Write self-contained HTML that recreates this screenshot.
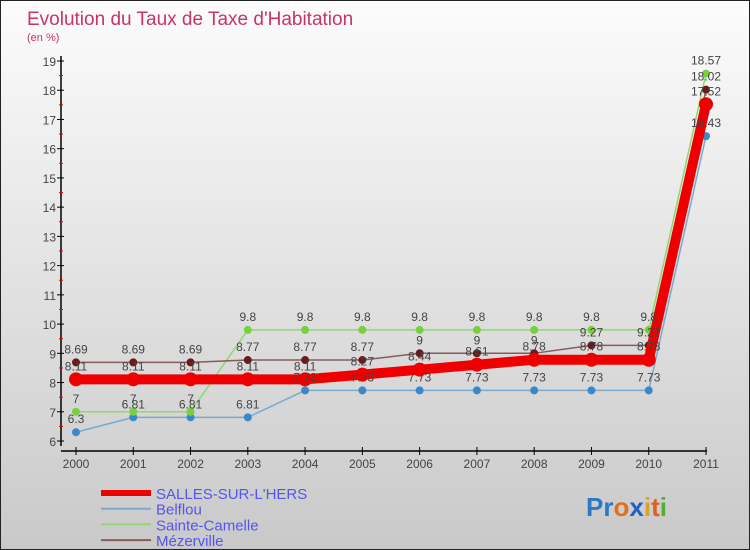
<!DOCTYPE html>
<html><head><meta charset="utf-8"><style>
body{margin:0}
#c{width:750px;height:550px;position:relative;overflow:hidden;background:linear-gradient(#fcfcfc,#c9c9c9);box-sizing:border-box;border:1px solid #222;font-family:"Liberation Sans",sans-serif}
svg{position:absolute;left:0;top:0}
</style></head><body>
<div id="c">
<svg id="s" width="750" height="550">
<text x="26" y="24" font-size="19" fill="#c8336a">Evolution du Taux de Taxe d'Habitation</text>
<text x="26" y="40" font-size="11" fill="#c8336a">(en %)</text>
<g id="axes"></g><g id="series"></g><g id="labels"></g>
<g id="legend"></g>
<text x="585" y="515" font-size="26" font-weight="bold"><tspan fill="#2a78c8">Pr</tspan><tspan fill="#e07020">o</tspan><tspan fill="#2060c0">x</tspan><tspan fill="#e0a020">i</tspan><tspan fill="#e06020">t</tspan><tspan fill="#50b030">i</tspan></text>
</svg></div>
<script>
const years=[2000,2001,2002,2003,2004,2005,2006,2007,2008,2009,2010,2011];
const salles=[8.11,8.11,8.11,8.11,8.11,8.27,8.44,8.61,8.78,8.78,8.78,17.52];
const belflou=[6.3,6.81,6.81,6.81,7.73,7.73,7.73,7.73,7.73,7.73,7.73,16.43];
const camelle=[7,7,7,9.8,9.8,9.8,9.8,9.8,9.8,9.8,9.8,18.57];
const mezer=[8.69,8.69,8.69,8.77,8.77,8.77,9,9,9,9.27,9.27,18.02];
const yTicks=[6,7,8,9,10,11,12,13,14,15,16,17,18,19];
const NS='http://www.w3.org/2000/svg';
const X=i=>75+(705-75)*i/(years.length-1);
const Y=v=>440-(v-6)*(440-60)/13;
function mk(p,t,a){const e=document.createElementNS(NS,t);for(const k in a)e.setAttribute(k,a[k]);document.getElementById(p).appendChild(e);return e;}
let e;
e=mk('axes','line',{x1:60,y1:55,x2:60,y2:445,stroke:'#000','stroke-width':1.5});


e=mk('axes','line',{x1:60,y1:450,x2:706,y2:450,stroke:'#000','stroke-width':1.5});


yTicks.forEach(v=>{
 e=mk('axes','line',{x1:56,y1:Y(v),x2:63,y2:Y(v),stroke:'#000'});
 
 
 if(v<19){e=mk('axes','line',{x1:58,y1:Y(v+0.5),x2:62,y2:Y(v+0.5),stroke:'#e00'});
 
 }
 e=mk('axes','text',{x:55,y:Y(v)+5,'font-size':12,fill:'#444','text-anchor':'end'});
 e.textContent=v;
 
 
});
years.forEach((yr,i)=>{
 e=mk('axes','line',{x1:X(i),y1:446,x2:X(i),y2:454,stroke:'#000'});
 
 
 e=mk('axes','text',{x:X(i),y:467,'font-size':12,fill:'#444','text-anchor':'middle'});
 e.textContent=yr;
 
 
});
const series=[
 {d:belflou,c:'#7aaad0',pc:'#3a88c8',w:1.5,r:4,n:'belflou'},
 {d:camelle,c:'#90d870',pc:'#78d040',w:1.5,r:4,n:'sainte-camelle'},
 {d:mezer,c:'#8a5a5a',pc:'#6a1a1a',w:1.5,r:4,n:'mezerville'},
 {d:salles,c:'#ee0000',pc:'#ee0000',w:10,r:7,n:'salles-sur-lhers'}];
series.forEach(s=>{
 e=mk('series','polyline',{points:s.d.map((v,i)=>X(i)+','+Y(v)).join(' '),fill:'none',stroke:s.c,'stroke-width':s.w});
 
 
 s.d.forEach((v,i)=>{
  e=mk('series','circle',{cx:X(i),cy:Y(v),r:s.r,fill:s.pc});
  
  
  e=mk('labels','text',{x:X(i),y:Y(v)-9,'font-size':12,fill:'#444','text-anchor':'middle'});
  e.textContent=v;
  
  
 });
});
const legNames=['SALLES-SUR-L\'HERS','Belflou','Sainte-Camelle','Mézerville'];
const legCols=['#ee0000','#7aaad0','#90d870','#8a5a5a'];
legNames.forEach((n,i)=>{
 const y=492+i*15.7;
 e=mk('legend','line',{x1:100,y1:y,x2:150,y2:y,stroke:legCols[i],'stroke-width':i?2:6});
 
 
 e=mk('legend','text',{x:155,y:y+6,'font-size':15,fill:'#5555ee'});
 e.textContent=n;
 
 
});
</script>
</body></html>
